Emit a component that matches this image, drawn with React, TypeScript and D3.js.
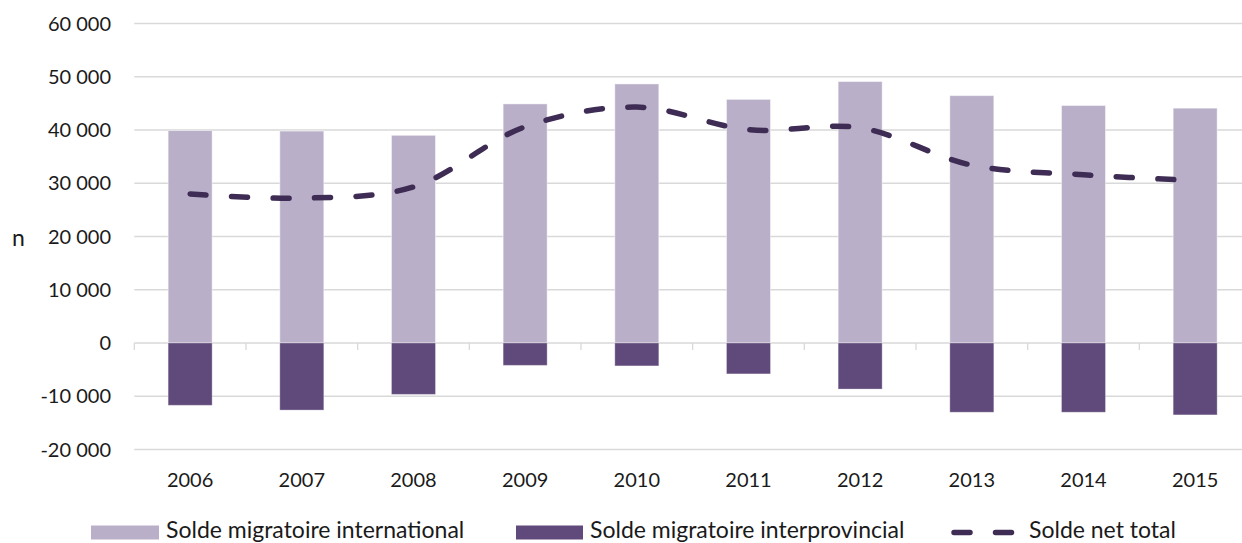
import React from "react";
import * as d3 from "d3";

const years = ["2006", "2007", "2008", "2009", "2010", "2011", "2012", "2013", "2014", "2015"];
const international = [39900, 39800, 39000, 44900, 48650, 45750, 49100, 46450, 44600, 44100];
const interprovincial = [-11700, -12600, -9650, -4200, -4300, -5800, -8650, -13000, -13000, -13500];
const netTotal = [28000, 27200, 29300, 40600, 44300, 40050, 40400, 33400, 31600, 30500];
const yTicks = [60000, 50000, 40000, 30000, 20000, 10000, 0, -10000, -20000];
const legendLabels = ["Solde migratoire international", "Solde migratoire interprovincial", "Solde net total"];

const W = 1242;
const H = 543;
const FONT = "Lato, 'Open Sans', sans-serif";
const C_LIGHT = "#B9AFC8";
const C_DARK = "#604A7B";
const C_LINE = "#3E2C55";
const C_GRID = "#D9D9D9";

const fmt = (v: number) => {
  const s = Math.abs(v).toString().replace(/\B(?=(\d{3})+(?!\d))/g, " ");
  return (v < 0 ? "-" : "") + s;
};

export default function App() {
  const left = 134.3;
  const right = 1251;
  const x = d3.scaleBand<string>().domain(years).range([left, right]).paddingInner(0.606).paddingOuter(0.303);
  const y = d3.scaleLinear().domain([-20000, 60000]).range([449.5, 23.5]);
  const bw = x.bandwidth();
  const cx = (yr: string) => (x(yr) as number) + bw / 2;

  const line = d3
    .line<number>()
    .x((_, i) => cx(years[i]))
    .y((d) => y(d))
    .curve(d3.curveCatmullRom.alpha(0.5));

  const boundaries = d3.range(years.length + 1).map((i) => left + i * (right - left) / years.length);

  return (
    <svg width={W} height={H} style={{ position: "absolute", left: 0, top: 0, background: "#fff" }} fontFamily={FONT}>
      {yTicks.map((t) => (
        <line key={"g" + t} x1={left} x2={right} y1={y(t)} y2={y(t)} stroke={C_GRID} strokeWidth={1.3} />
      ))}
      {boundaries.map((b, i) => (
        <line key={"tk" + i} x1={b} x2={b} y1={y(0)} y2={y(0) + 7} stroke={C_GRID} strokeWidth={1.3} />
      ))}
      {yTicks.map((t) => (
        <text key={"yl" + t} x={111} y={y(t)} dy="0.36em" textAnchor="end" fontSize={20} fill="#1a1a1a">
          {fmt(t)}
        </text>
      ))}
      <text x={18.5} y={239} dy="0.3em" textAnchor="middle" fontSize={23} fill="#1a1a1a">n</text>
      {years.map((yr, i) => (
        <rect key={"bi" + yr} x={x(yr)} y={y(international[i])} width={bw} height={y(0) - y(international[i])} fill={C_LIGHT} stroke="#ffffff" strokeOpacity={0.45} strokeWidth={1} />
      ))}
      {years.map((yr, i) => (
        <rect key={"bp" + yr} x={x(yr)} y={y(0)} width={bw} height={y(interprovincial[i]) - y(0)} fill={C_DARK} stroke="#ffffff" strokeOpacity={0.3} strokeWidth={1} />
      ))}
      <path d={line(netTotal) || ""} fill="none" stroke={C_LINE} strokeWidth={5.5} strokeDasharray="16 25.5" strokeLinecap="round" />
      {years.map((yr) => (
        <text key={"xl" + yr} x={cx(yr)} y={487} textAnchor="middle" fontSize={20} fill="#1a1a1a">{yr}</text>
      ))}
      {/* legend */}
      <rect x={91} y={525.5} width={68} height={14} fill={C_LIGHT} />
      <text x={166} y={537.5} fontSize={23} fill="#1a1a1a">{legendLabels[0]}</text>
      <rect x={516} y={525.5} width={67} height={14} fill={C_DARK} />
      <text x={590} y={537.5} fontSize={23} fill="#1a1a1a">{legendLabels[1]}</text>
      <line x1={954} x2={1015} y1={532.5} y2={532.5} stroke={C_LINE} strokeWidth={5.5} strokeDasharray="16 25.5" strokeLinecap="round" />
      <text x={1029} y={537.5} fontSize={23} fill="#1a1a1a">{legendLabels[2]}</text>
    </svg>
  );
}
